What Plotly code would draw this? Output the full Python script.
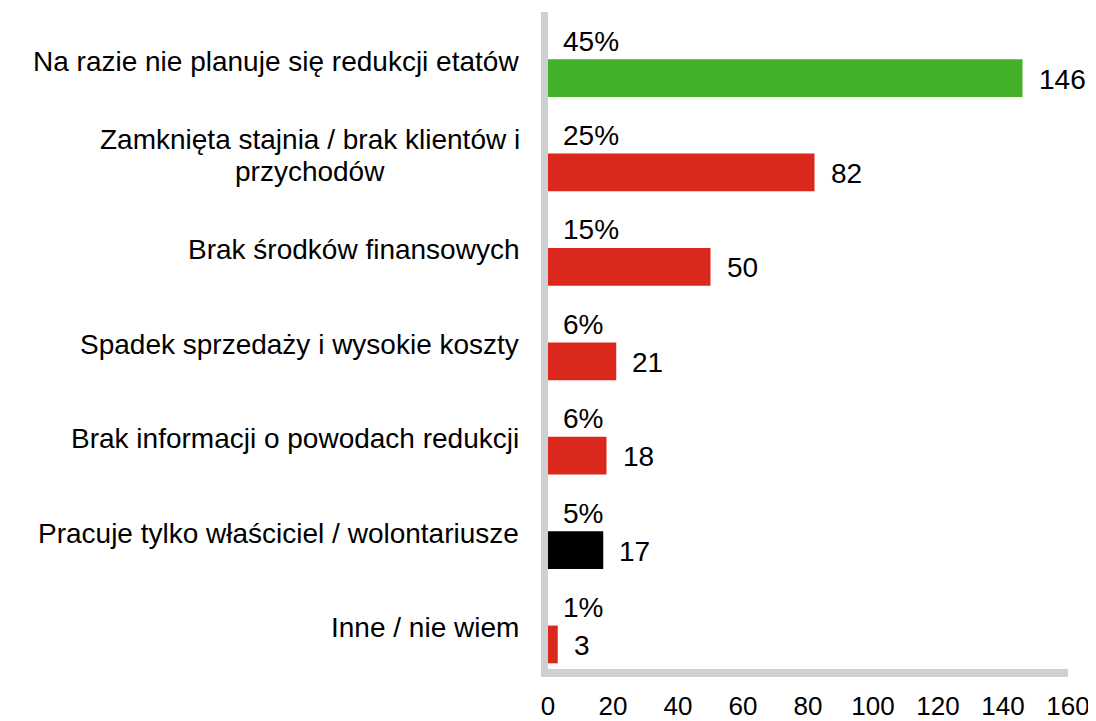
import plotly.graph_objects as go

categories = [
    "Na razie nie planuje się redukcji etatów",
    "Zamknięta stajnia / brak klientów i<br>przychodów",
    "Brak środków finansowych",
    "Spadek sprzedaży i wysokie koszty",
    "Brak informacji o powodach redukcji",
    "Pracuje tylko właściciel / wolontariusze",
    "Inne / nie wiem",
]
counts = [146, 82, 50, 21, 18, 17, 3]
percents = ["45%", "25%", "15%", "6%", "6%", "5%", "1%"]
colors = ["#43B02A", "#DA291C", "#DA291C", "#DA291C", "#DA291C", "#000000", "#DA291C"]
tick_vals = [0, 20, 40, 60, 80, 100, 120, 140, 160]

FONT = "Liberation Sans, Arial, sans-serif"
LINE_H = 32

fig = go.Figure()
fig.add_trace(go.Bar(
    x=counts, y=categories, orientation="h",
    marker=dict(color=colors, line=dict(width=0)),
    width=0.4, hoverinfo="x",
))

annotations = []
for cat, c, p in zip(categories, counts, percents):
    lines = cat.split("<br>")
    n = len(lines)
    for i, ln in enumerate(lines):
        off = ((n - 1) / 2 - i) * LINE_H
        if n == 1:
            pos = dict(xanchor="right", xshift=-27)
        else:
            pos = dict(xanchor="center", xshift=-238)
        annotations.append(dict(x=0, y=cat, xref="x", yref="y", text=ln, showarrow=False,
                                yanchor="middle", yshift=17 + off,
                                font=dict(size=28, color="#000", family=FONT), **pos))
    annotations.append(dict(x=0, y=cat, xref="x", yref="y", text=p, showarrow=False,
                            xanchor="left", yanchor="middle", xshift=13, yshift=37,
                            font=dict(size=28, color="#000", family=FONT)))
    annotations.append(dict(x=c, y=cat, xref="x", yref="y", text=str(c), showarrow=False,
                            xanchor="left", yanchor="middle", xshift=14, yshift=-1,
                            font=dict(size=28, color="#000", family=FONT)))

fig.update_layout(
    width=1088, height=713,
    margin=dict(l=540, r=28, t=4, b=52, autoexpand=False),
    paper_bgcolor="white", plot_bgcolor="white",
    showlegend=False,
    font=dict(family=FONT, size=26, color="#000"),
    annotations=annotations,
    xaxis=dict(range=[0, 160], tickvals=tick_vals, showgrid=False, zeroline=False,
               showline=True, linecolor="#CDD0D3", linewidth=8,
               ticks="", ticklabelstandoff=7, automargin=False,
               tickfont=dict(size=26, color="#000", family=FONT),
               fixedrange=True),
    yaxis=dict(range=[6.26, -0.7], showticklabels=False, showgrid=False, zeroline=False,
               showline=True, linecolor="#CDD0D3", linewidth=7, ticks="",
               automargin=False, fixedrange=True),
)

fig.write_html("out.html")
